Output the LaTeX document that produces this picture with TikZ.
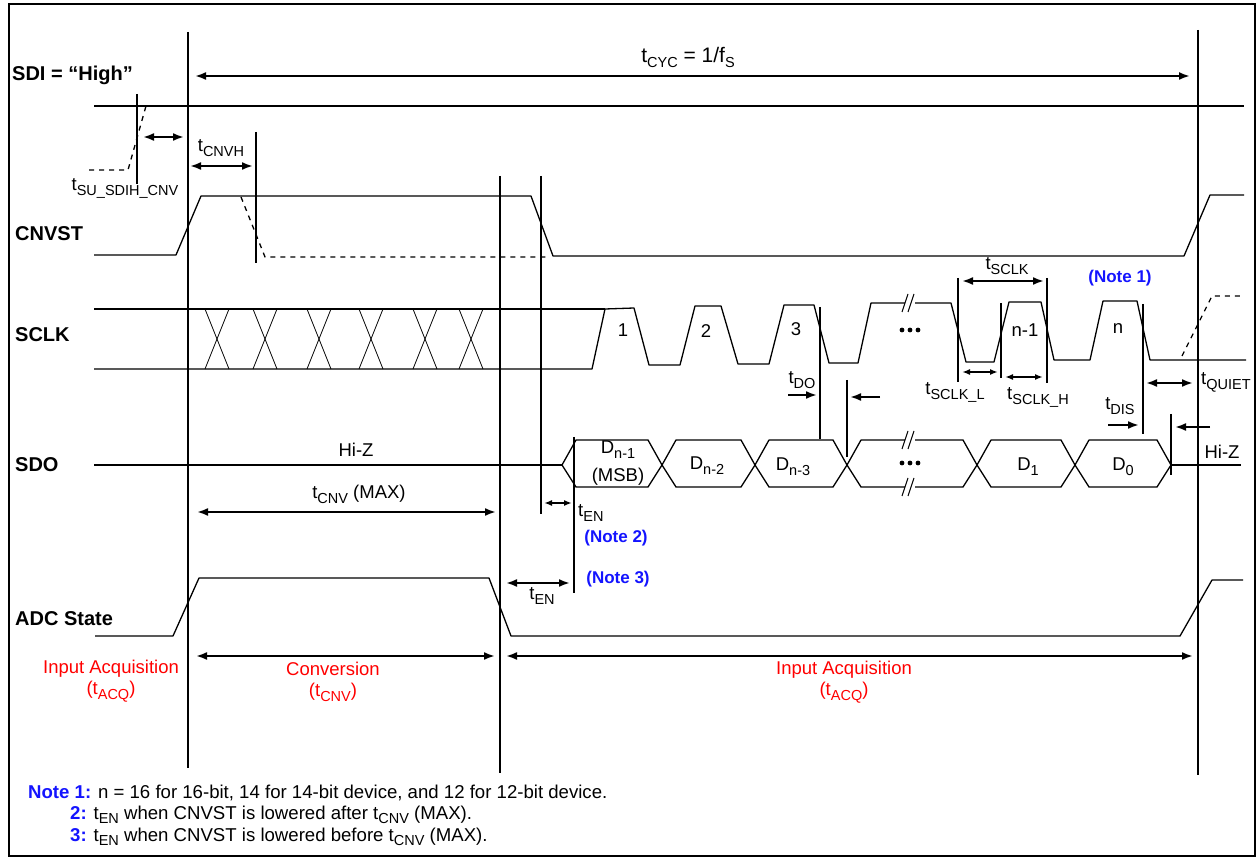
\documentclass[tikz,border=0pt]{standalone}
\usepackage{fontspec}
\setmainfont{Liberation Sans}
\usetikzlibrary{arrows.meta}
\definecolor{noteblue}{RGB}{20,20,255}
\definecolor{accred}{RGB}{255,0,0}
\newcommand{\sbx}[1]{\raisebox{-5pt}{\fontsize{14.5}{15}\selectfont #1}}
\newcommand{\sbn}[1]{\raisebox{-4.5pt}{\fontsize{14.5}{15}\selectfont #1}}
\begin{document}
\begin{tikzpicture}[x=1pt,y=-1pt,
  sig/.style={line width=1.3pt,line join=round},
  tim/.style={line width=2pt},
  dsh/.style={line width=1.3pt,dash pattern=on 5pt off 5pt},
  thinx/.style={line width=0.8pt},
  dimb/.style={line width=2pt,{Latex[length=11pt,width=8pt]}-{Latex[length=11pt,width=8pt]}},
  dims/.style={line width=2pt,{Latex[length=8pt,width=6pt]}-{Latex[length=8pt,width=6pt]}},
  dimr/.style={line width=2pt,-{Latex[length=11pt,width=8pt]}},
  lbl/.style={font=\fontsize{20}{24}\selectfont\bfseries,anchor=west,inner sep=0pt},
  txt/.style={font=\fontsize{18.5}{22}\selectfont,inner sep=0pt},
  redt/.style={txt,text=accred},
  blut/.style={font=\fontsize{17}{20}\selectfont\bfseries,text=noteblue,inner sep=0pt},
  notet/.style={font=\fontsize{18.6}{21}\selectfont,anchor=west,inner sep=0pt}]
\useasboundingbox (0,0) rectangle (1259,858);
\fill[white] (0,0) rectangle (1259,858);
% frame
\draw[line width=1.5pt] (9,4) rectangle (1255,856);
\draw[line width=2.5pt] (9,4) -- (1255,4);

% ---- long vertical timing lines
\draw[tim] (188,32) -- (188,768);
\draw[tim] (1198,30) -- (1198,775);
\draw[tim] (137,94) -- (137,184);
\draw[tim] (256,132) -- (256,263);
\draw[tim] (500,176) -- (500,773);
\draw[tim] (541,176) -- (541,514);
\draw[tim] (574,437) -- (574,593);
\draw[tim] (820,307) -- (820,439);
\draw[tim] (847,380) -- (847,457);
\draw[tim] (958,278) -- (958,382);
\draw[tim] (1001,303) -- (1001,378);
\draw[tim] (1047,278) -- (1047,383);
\draw[tim] (1143,304) -- (1143,434);
\draw[tim] (1171,414) -- (1171,475);

% ---- signal labels
\node[lbl] (lsdi) at (12,75) {SDI = “High”};
\node[lbl] (lcnv) at (15,234) {CNVST};
\node[lbl] (lsclk) at (15,335) {SCLK};
\node[lbl] (lsdo) at (15,465) {SDO};
\node[lbl] (ladc) at (15,619) {ADC State};

% ---- SDI
\draw[sig] (94,106) -- (1244,106);
\draw[dsh] (89,170) -- (128,170) -- (146,106);

% ---- CNVST
\draw[sig] (94,255) -- (176,255) -- (201,196) -- (531,196) -- (553,256) -- (1184,256) -- (1210,195) -- (1244,195);
\draw[dsh] (241,197) -- (265,257) -- (547,257);

% ---- SCLK bus
\draw[sig] (94,309) -- (605,309);
\draw[sig] (94,369) -- (592,369) -- (605,309);
\foreach \c in {217,265,319,371,425,471}{
  \draw[thinx] (\c-12,309) -- (\c+12,369);
  \draw[thinx] (\c+12,309) -- (\c-12,369);
}
% SCLK pulses
\draw[sig] (605,309) -- (634,308) -- (649,365) -- (680,365) -- (695,306) -- (721,306) -- (738,364)
  -- (769,364) -- (784,305) -- (814,305) -- (829,363) -- (858,363) -- (871,303) -- (951,303)
  -- (966,362) -- (994,362) -- (1009,302) -- (1041,302) -- (1054,360) -- (1090,360) -- (1103,301)
  -- (1137,301) -- (1150,360) -- (1246,360);
\fill[white] (905,296) rectangle (915,310);
\draw[line width=1pt] (902,312) -- (908,294);
\draw[line width=1pt] (908,312) -- (914,294);
\draw[dsh] (1182,356) -- (1212,296) -- (1244,296);
\node[txt] (p1) at (623,330) {1};
\node[txt] (p2) at (706,331) {2};
\node[txt] (p3) at (796,329) {3};
\node[txt] (pn1) at (1025,330) {n-1};
\node[txt] (pn) at (1118,329) {n};
\foreach \d in {902,910,918}{\fill (\d,330) circle (2.4);}

% ---- SDO
\draw[sig] (94,465) -- (562,465);
\foreach \a/\b in {562/662,662/755,755/847,847/977,977/1075,1075/1171}{
  \draw[sig] (\a,465) -- (\a+14,440) -- (\b-14,440) -- (\b,465) -- (\b-14,487) -- (\a+14,487) -- cycle;
}
\fill[white] (905,433) rectangle (915,447);
\fill[white] (905,480) rectangle (915,494);
\draw[line width=1pt] (902,449) -- (908,431);
\draw[line width=1pt] (908,449) -- (914,431);
\draw[line width=1pt] (902,496) -- (908,478);
\draw[line width=1pt] (908,496) -- (914,478);
\foreach \d in {902,910,918}{\fill (\d,463) circle (2.4);}
\draw[sig] (1171,465) -- (1241,465);
\node[txt] (d1) at (618,450) {D\sbx{n-1}};
\node[txt] (msb) at (618,477) {(MSB)};
\node[txt] (d2) at (707,466) {D\sbx{n-2}};
\node[txt] (d3) at (793,467) {D\sbx{n-3}};
\node[txt] (dd1) at (1028,467) {D\sbx{1}};
\node[txt] (dd0) at (1123,467) {D\sbx{0}};
\node[txt] (hiz) at (356,450) {Hi-Z};
\node[txt] (hiz2) at (1222,452) {Hi-Z};

% ---- ADC state
\draw[sig] (95,636) -- (173,636) -- (199,578) -- (489,578) -- (511,636) -- (1180,636) -- (1212,580) -- (1243,580);

% ---- dimension arrows
\draw[dimb] (195,76) -- (1190,76);
\node[txt,font=\fontsize{21}{24}\selectfont] (tcyc) at (688,57) {t\sbx{CYC} = 1/f\sbx{S}};
\draw[dimb] (143,137) -- (184,137);
\node[txt] (tsu) at (125,188) {t\sbx{SU\_SDIH\_CNV}};
\draw[dimb] (190,166) -- (253,166);
\node[txt] (tcnvh) at (221,148) {t\sbx{CNVH}};
\draw[dimb] (197,512) -- (496,512);
\node[txt] (tcnv) at (359,494) {t\sbx{CNV} (MAX)};
\draw[dims] (544,503) -- (572,503);
\node[txt,anchor=west] (ten1) at (578,513) {t\sbx{EN}};
\node[blut] (n2) at (616,538) {(Note 2)};
\draw[dimb] (506,583) -- (570,583);
\node[blut] (n3) at (618,579) {(Note 3)};
\node[txt] (ten2) at (542,596) {t\sbx{EN}};
\draw[dimr] (788,395) -- (817,395);
\draw[dimr] (880,397) -- (850,397);
\node[txt] (tdo) at (802,380) {t\sbx{DO}};
\draw[dimb] (962,281) -- (1044,281);
\node[txt] (tsclk) at (1007,266) {t\sbx{SCLK}};
\node[blut] (n1) at (1120,278) {(Note 1)};
\draw[dims] (962,372) -- (998,372);
\node[txt] (tsl) at (955,392) {t\sbx{SCLK\_L}};
\draw[dims] (1005,377) -- (1043,377);
\node[txt] (tsh) at (1038,397) {t\sbx{SCLK\_H}};
\draw[dimb] (1146,383) -- (1193,383);
\node[txt,anchor=west] (tq) at (1201,382) {t\sbx{QUIET}};
\draw[dimr] (1108,425) -- (1139,425);
\draw[dimr] (1210,427) -- (1175,427);
\node[txt] (tdis) at (1120,406) {t\sbx{DIS}};

% ---- phases
\draw[dimb] (196,656) -- (495,656);
\draw[dimb] (506,656) -- (1193,656);
\node[redt] (ia1) at (111,669) {Input Acquisition};
\node[redt] (ia1b) at (111,692) {(t\sbx{ACQ})};
\node[redt] (cv) at (333,669) {Conversion};
\node[redt] (cvb) at (333,692) {(t\sbx{CNV})};
\node[redt] (ia2) at (844,670) {Input Acquisition};
\node[redt] (ia2b) at (844,693) {(t\sbx{ACQ})};

% ---- notes
\node[notet] (note1) at (28,793) {\textcolor{noteblue}{\bfseries Note 1:} n = 16 for 16-bit, 14 for 14-bit device, and 12 for 12-bit device.};
\node[notet] (note2) at (70,815) {\textcolor{noteblue}{\bfseries 2:} t\sbn{EN} when CNVST is lowered after t\sbn{CNV} (MAX).};
\node[notet] (note3) at (70,837) {\textcolor{noteblue}{\bfseries 3:} t\sbn{EN} when CNVST is lowered before t\sbn{CNV} (MAX).};
\end{tikzpicture}
\end{document}
